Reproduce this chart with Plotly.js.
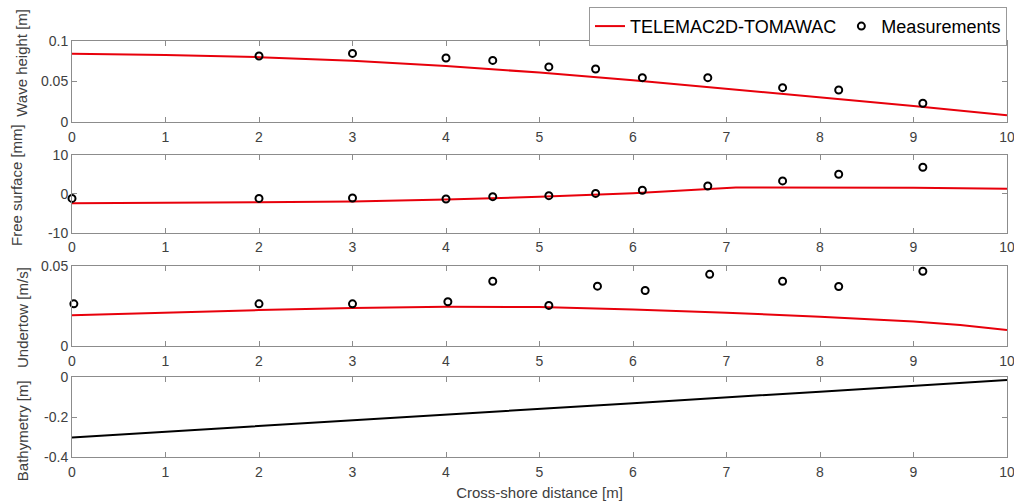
<!DOCTYPE html>
<html>
<head>
<meta charset="utf-8">
<script src="https://cdn.plot.ly/plotly-3.0.1.min.js"></script>
<style>html,body{margin:0;padding:0;background:#fff;}#chart{width:1014px;height:502px;}</style>
</head>
<body>
<div id="chart"></div>
<script>
// Model (TELEMAC2D-TOMAWAC) curves
const waveModelX = [0,1,2,3,4,5,6,7,8,9,10];
const waveModelY = [0.0843,0.0827,0.080,0.0755,0.069,0.061,0.0514,0.041,0.031,0.0198,0.0082];
const surfModelX = [0,1,2,3,4,5,6,7.1,8,9,10];
const surfModelY = [-2.45,-2.4,-2.2,-2.0,-1.5,-0.8,0.15,1.6,1.6,1.55,1.3];
const underModelX = [0,1,2,3,4,5,6,7,8,9,9.5,10];
const underModelY = [0.019,0.0207,0.0223,0.0236,0.0244,0.0242,0.0227,0.0206,0.0182,0.0151,0.013,0.0099];
const bathyX = [0,2,4,6,8,10];
const bathyY = [-0.302,-0.245,-0.19,-0.13,-0.072,-0.013];

// Measurements
const waveMeasX = [2,3,4,4.5,5.1,5.6,6.1,6.8,7.6,8.2,9.1];
const waveMeasY = [0.0815,0.0847,0.079,0.076,0.068,0.0654,0.0547,0.0547,0.0423,0.0395,0.023];
const surfMeasX = [0,2,3,4,4.5,5.1,5.6,6.1,6.8,7.6,8.2,9.1];
const surfMeasY = [-1.2,-1.2,-1.1,-1.35,-0.75,-0.5,0.08,0.9,2.0,3.3,5.0,6.8];
const underMeasX = [0.02,2,3,4.02,4.5,5.1,5.62,6.13,6.82,7.6,8.2,9.1];
const underMeasY = [0.0262,0.0262,0.0262,0.0275,0.0403,0.0252,0.0372,0.0345,0.0446,0.0403,0.037,0.0465];

const xTicks = [0,1,2,3,4,5,6,7,8,9,10];
const modelName = 'TELEMAC2D-TOMAWAC';
const measName = 'Measurements';
const yTitles = ['Wave height [m]', 'Free surface [mm]', 'Undertow [m/s]', 'Bathymetry [m]'];
const xTitle = 'Cross-shore distance [m]';

const red = '#e8000b';
const lineStyle = {color: red, width: 2};
const markStyle = {symbol: 'circle-open', size: 7, color: '#000', line: {width: 2, color: '#000'}};

const traces = [
  {x: waveModelX, y: waveModelY, xaxis: 'x', yaxis: 'y', mode: 'lines', line: lineStyle, name: modelName, showlegend: true},
  {x: waveMeasX, y: waveMeasY, xaxis: 'x', yaxis: 'y', mode: 'markers', marker: markStyle, name: measName, showlegend: true, cliponaxis: false},
  {x: surfModelX, y: surfModelY, xaxis: 'x2', yaxis: 'y2', mode: 'lines', line: lineStyle, showlegend: false},
  {x: surfMeasX, y: surfMeasY, xaxis: 'x2', yaxis: 'y2', mode: 'markers', marker: markStyle, showlegend: false, cliponaxis: false},
  {x: underModelX, y: underModelY, xaxis: 'x3', yaxis: 'y3', mode: 'lines', line: lineStyle, showlegend: false},
  {x: underMeasX, y: underMeasY, xaxis: 'x3', yaxis: 'y3', mode: 'markers', marker: markStyle, showlegend: false, cliponaxis: false},
  {x: bathyX, y: bathyY, xaxis: 'x4', yaxis: 'y4', mode: 'lines', line: {color: '#000', width: 2}, showlegend: false}
];

const axisColor = '#8c8c8c';
const FF = 'Liberation Sans, Arial, sans-serif';
const tickFont = {family: FF, size: 14, color: '#404040'};
const titleFont = {family: FF, size: 15, color: '#404040'};

function xa(anchor, title) {
  const a = {
    anchor: anchor, range: [0,10], tickvals: xTicks, ticktext: xTicks.map(String),
    ticks: 'inside', ticklen: 5, tickcolor: axisColor, showline: true, linecolor: axisColor, linewidth: 1,
    mirror: 'ticks', showgrid: false, zeroline: false, tickfont: tickFont, fixedrange: true,
    ticklabeloverflow: 'allow', ticklabelstandoff: 2
  };
  if (title) a.title = {text: title, font: titleFont, standoff: 8};
  return a;
}
function ya(domain, range, tv, tt) {
  return {
    domain: domain, range: range, tickvals: tv, ticktext: tt,
    ticks: 'inside', ticklen: 5, tickcolor: axisColor, showline: true, linecolor: axisColor, linewidth: 1,
    mirror: 'ticks', showgrid: false, zeroline: false, tickfont: tickFont, fixedrange: true,
    ticklabeloverflow: 'allow'
  };
}

// y-axis titles placed as annotations (paper coords)
const titlePos = [[-0.0535, 0.9475], [-0.0588, 0.654], [-0.0535, 0.3365], [-0.0535, 0.0644]];
const annotations = yTitles.map((t, i) => ({
  text: t, xref: 'paper', yref: 'paper', x: titlePos[i][0], y: titlePos[i][1],
  xanchor: 'center', yanchor: 'middle', textangle: -90, showarrow: false, font: titleFont
}));

const layout = {
  width: 1014, height: 502,
  margin: {l: 72, r: 7, t: 38, b: 45},
  paper_bgcolor: '#fff', plot_bgcolor: '#fff',
  font: {family: FF, color: '#404040'},
  xaxis: xa('y'),
  xaxis2: xa('y2'),
  xaxis3: xa('y3'),
  xaxis4: xa('y4', xTitle),
  yaxis: ya([0.8055, 1.0], [0, 0.1], [0, 0.05, 0.1], ['0', '0.05', '0.1']),
  yaxis2: ya([0.5394, 0.7263], [-10, 10], [-10, 0, 10], ['-10', '0', '10']),
  yaxis3: ya([0.2673, 0.4599], [0, 0.05], [0, 0.05], ['0', '0.05']),
  yaxis4: ya([0, 0.1916], [-0.4, 0], [-0.4, -0.2, 0], ['-0.4', '-0.2', '0']),
  annotations: annotations,
  showlegend: true,
  legend: {
    orientation: 'h', x: 1, xanchor: 'right', y: 1.082, yanchor: 'top',
    bordercolor: '#999', borderwidth: 1, bgcolor: '#fff',
    font: {family: FF, size: 18, color: '#000'},
    itemwidth: 30, tracegroupgap: 0
  }
};

Plotly.newPlot('chart', traces, layout, {displayModeBar: false, staticPlot: true});
</script>
</body>
</html>
